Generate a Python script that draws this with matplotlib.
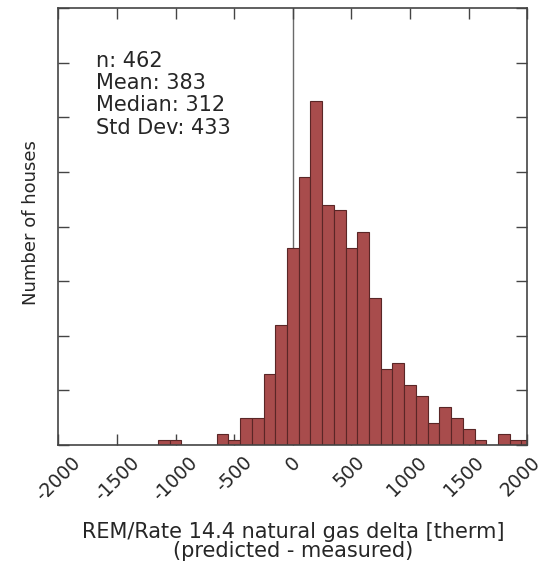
import numpy as np
import matplotlib
matplotlib.use("Agg")
import matplotlib.pyplot as plt
from matplotlib.transforms import Affine2D

# bin centres (therm) and number of houses in each 100-therm bin
bin_centers = [-1100, -1000, -900, -800, -700, -600, -500, -400, -300, -200,
               -100, 0, 100, 200, 300, 400, 500, 600, 700, 800,
               900, 1000, 1100, 1200, 1300, 1400, 1500, 1600, 1700, 1800,
               1900, 2000]
counts = [1, 1, 0, 0, 0, 2, 1, 5, 5, 13,
          22, 36, 49, 63, 44, 43, 36, 39, 27, 14,
          15, 11, 9, 4, 7, 5, 3, 1, 0, 2,
          1, 1]
bin_width = 100

x_ticks = [-2000, -1500, -1000, -500, 0, 500, 1000, 1500, 2000]
x_tick_labels = ["-2000", "-1500", "-1000", "-500", "0", "500", "1000", "1500", "2000"]
y_ticks = [0, 10, 20, 30, 40, 50, 60, 70, 80]

stats_text = "n: 462\nMean: 383\nMedian: 312\nStd Dev: 433"

plt.rcParams["axes.unicode_minus"] = False
text_color = "#262626"

fig = plt.figure(figsize=(5.46, 5.68), dpi=100)
ax = fig.add_axes([0.1068, 0.2165, 0.859, 0.7694])

ax.bar(bin_centers, counts, width=bin_width, align="center",
       color="#a84c4c", edgecolor="#5a2626", linewidth=0.8, zorder=2)
ax.axvline(0, color="#6a6a6a", linewidth=1.0, zorder=1)

ax.set_xlim(-2000, 2000)
ax.set_ylim(0, 80)
ax.set_xticks(x_ticks)
ax.set_xticklabels(x_tick_labels, rotation=45, ha="center", va="top",
                   fontsize=13.5, color=text_color)
ax.set_yticks(y_ticks)
ax.tick_params(direction="in", top=True, right=True, length=8, width=1,
               color="#444444", labelleft=False, pad=5)
ax.tick_params(axis="x", pad=5.5)

# labels on the right side sit a little left of their ticks in the original
for tick, v in zip(ax.xaxis.get_major_ticks(), x_ticks):
    dx = -0.0035 * max(v, 0)
    tick.label1.set_transform(tick.label1.get_transform() + Affine2D().translate(dx, 0))

for s in ax.spines.values():
    s.set_color("#444444")
    s.set_linewidth(1.2)

ax.text(0.08, 0.902, stats_text, transform=ax.transAxes, ha="left", va="top",
        fontsize=15, color=text_color, linespacing=1.14)

ax.set_xlabel("REM/Rate 14.4 natural gas delta [therm]\n(predicted - measured)",
              fontsize=15, color=text_color, linespacing=0.92, va="top")
ax.xaxis.set_label_coords(0.5, -0.176)
ax.set_ylabel("Number of houses", fontsize=13, color=text_color)
ax.yaxis.set_label_coords(-0.038, 0.51)

fig.savefig("out.png", dpi=100)
